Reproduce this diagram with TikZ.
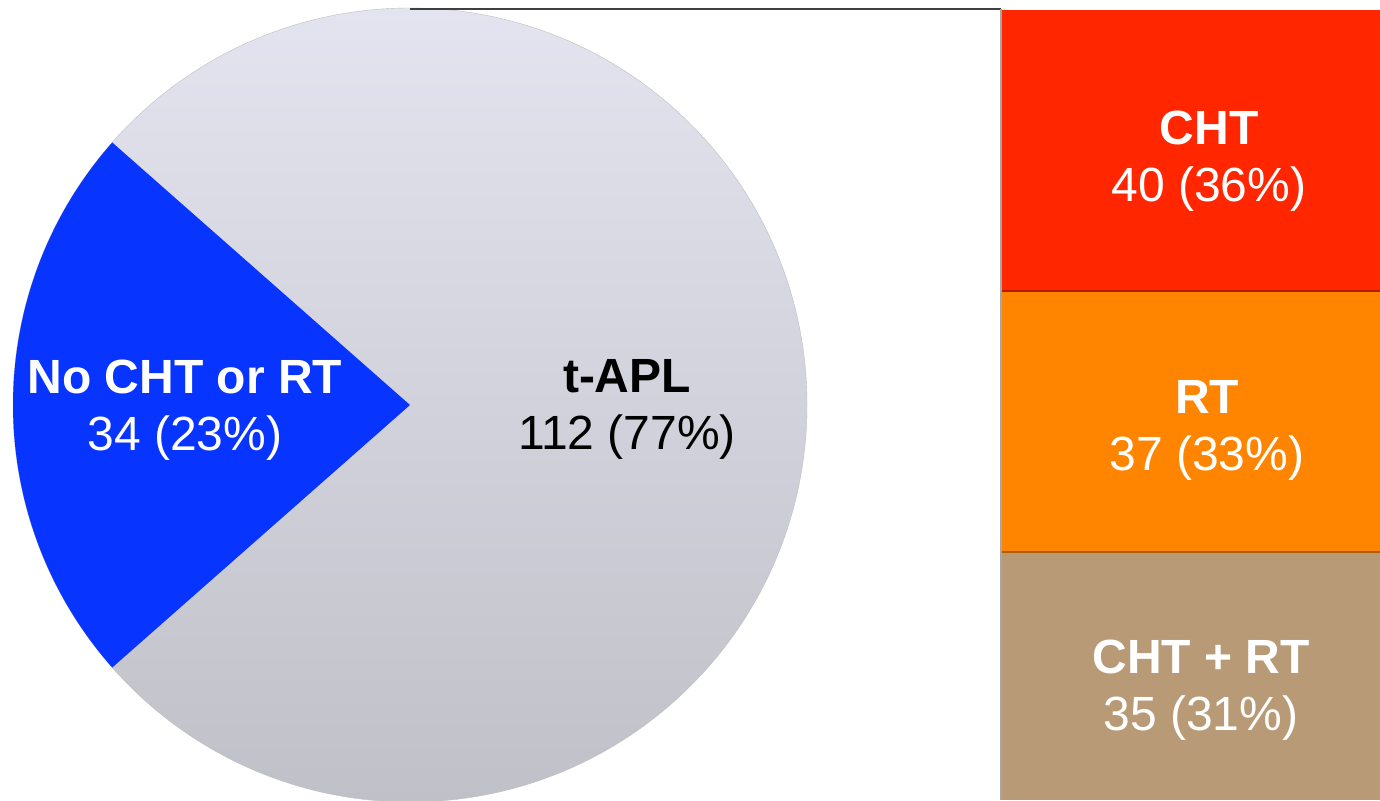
\documentclass[tikz,border=0pt]{standalone}
\usepackage{fontspec}
\setmainfont{Liberation Sans}
\definecolor{pieblue}{RGB}{8,52,255}
\definecolor{piegraytop}{RGB}{228,228,240}
\definecolor{piegraybot}{RGB}{192,192,200}
\definecolor{chtred}{RGB}{255,38,0}
\definecolor{rtorange}{RGB}{255,132,0}
\definecolor{bothtan}{RGB}{184,155,118}
\tikzset{lbl/.style={font=\fontsize{48}{57}\selectfont, align=center, inner sep=0pt}}
\begin{document}
\begin{tikzpicture}[x=1pt,y=-1pt]
  \useasboundingbox (0,0) rectangle (1380,800);
  \fill[white] (0,0) rectangle (1380,800);

  \shade[top color=piegraytop, bottom color=piegraybot, draw=black!25] (410,405) circle[radius=397pt];
  \fill[pieblue] (410,405) -- +(138.6:397pt) arc[start angle=138.6, end angle=221.4, radius=397pt] -- cycle;

  \fill[chtred] (1002,10) rectangle (1380,291);
  \fill[rtorange] (1002,292) rectangle (1380,552);
  \fill[bothtan] (1002,553) rectangle (1380,800);
  \draw[chtred!70!black, line width=1.5pt] (1002,291) -- (1380,291);
  \draw[rtorange!70!black, line width=1.5pt] (1002,552) -- (1380,552);

  \draw[black!75, line width=1.5pt] (410,9) -- (1001,9);
  \draw[black!35, line width=1.5pt] (1001,9) -- (1001,800);

  \node (nocr) at (185,410) [lbl, text=white] {\textbf{No CHT or RT}\\34 (23\%)};
  \node (tapl) at (627,409) [lbl] {\textbf{t-APL}\\112 (77\%)};
  \node (cht) at (1209,161) [lbl, text=white] {\textbf{CHT}\\40 (36\%)};
  \node (rt) at (1207,430) [lbl, text=white] {\textbf{RT}\\37 (33\%)};
  \node (chtrt) at (1201,690) [lbl, text=white] {\textbf{CHT + RT}\\35 (31\%)};
\end{tikzpicture}
\end{document}
